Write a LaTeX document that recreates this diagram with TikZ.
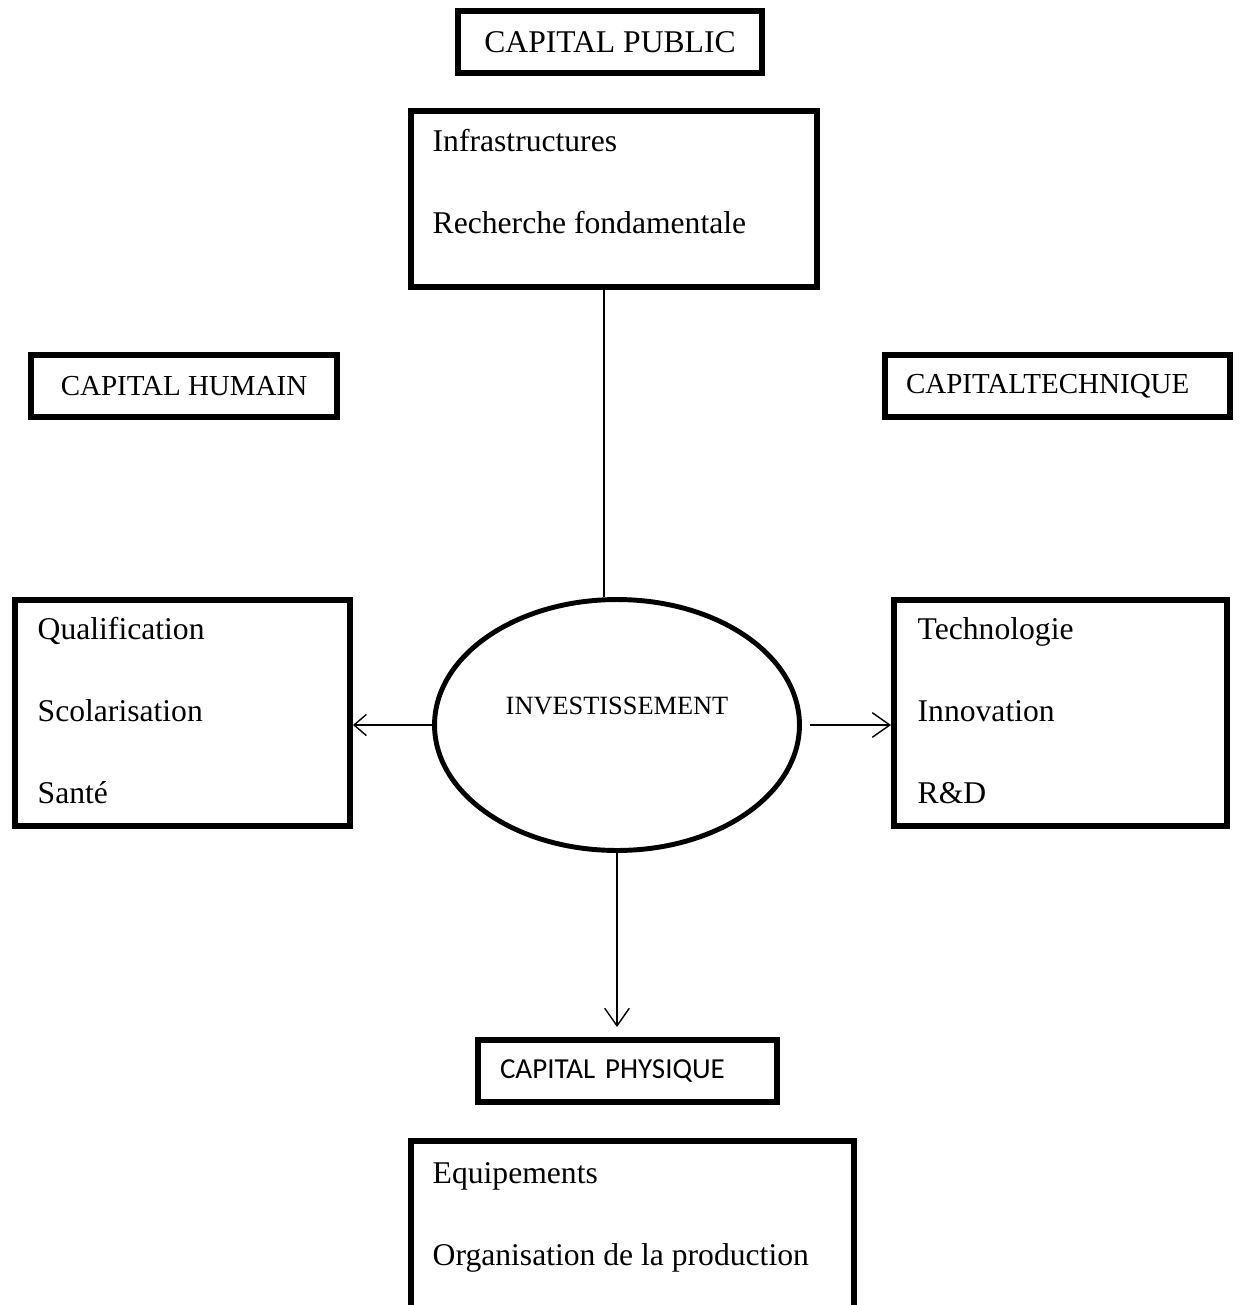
\documentclass[tikz,border=0pt]{standalone}
\usepackage{fontspec}
\setmainfont{Liberation Serif}
\newfontfamily\calibrifont{Carlito}
\usetikzlibrary{arrows.meta, shapes.geometric}
\tikzset{
  every picture/.style={line width=0.8pt},
  box/.style={draw, line width=3.4pt, inner sep=0pt},
  tag/.style={box, minimum height=1.24cm},
  item/.style={font=\fontsize{18}{46.5}\selectfont, align=left, inner sep=0pt, anchor=base west},
  oval/.style={ellipse, draw, line width=2.8pt, inner sep=0pt, font=\fontsize{15}{18}\selectfont},
  arrow/.style={-{Straight Barb[length=10pt, width=14pt]}},
}
\begin{document}
\begin{tikzpicture}[x=0.02cm, y=-0.02cm]
  \useasboundingbox (0,0) rectangle (1241,1305);
  \clip (0,0) rectangle (1241,1305);
  % public capital
  \node[tag, minimum width=6.08cm, font=\fontsize{18}{22}\selectfont] (pubtag) at (610,42) {CAPITAL PUBLIC};
  \node[box, minimum width=8.12cm, minimum height=3.52cm] (pubbox) at (614,199) {};
  \node[item] (pubitems) at (432,233) {Infrastructures\\Recherche fondamentale};
  % human capital
  \node[tag, minimum width=6.12cm, font=\fontsize{16.5}{20}\selectfont] (humtag) at (184,386) {CAPITAL HUMAIN};
  \node[box, minimum width=6.7cm, minimum height=4.52cm] (humbox) at (182.5,713) {};
  \node[item] (humitems) at (37,803) {Qualification\\Scolarisation\\Santé};
  % technical capital
  \node[tag, text width=6.06cm, inner xsep=0.42cm, align=left, font=\fontsize{16.5}{20}\selectfont] (techtag) at (1057.5,386) {\raisebox{-2pt}{CAPITALTECHNIQUE}};
  \node[box, minimum width=6.66cm, minimum height=4.52cm] (techbox) at (1060.5,713) {};
  \node[item] (techitems) at (917,803) {Technologie\\Innovation\\R\&D};
  % centre
  \node[oval, minimum width=7.3cm, minimum height=5.02cm] (inv) at (617,725) {\raisebox{5.9pt}[0pt][0pt]{INVESTISSEMENT}};
  % physical capital
  \node[tag, text width=5.1cm, inner xsep=0.44cm, align=left, font=\calibrifont\fontsize{16.5}{20}\selectfont] (phystag) at (627.5,1071) {CAPITAL PHYSIQUE};
  \node[box, minimum width=8.86cm, minimum height=4cm] (physbox) at (632.5,1241) {};
  \node[item] (physitems) at (432,1265) {Equipements\\Organisation de la production};
  % links
  \draw ([xshift=-0.2cm]pubbox.south) -- ([xshift=-0.2cm]pubbox.south |- inv.north);
  \draw[-{Straight Barb[length=7pt, width=12pt]}] (inv.west) -- (inv.west -| humbox.east);
  \draw[arrow] ([xshift=0.16cm]inv.east) -- (inv.east -| techbox.west);
  \draw[arrow] (inv.south) -- ([yshift=0.2cm]phystag.north -| inv.south);
\end{tikzpicture}
\end{document}
